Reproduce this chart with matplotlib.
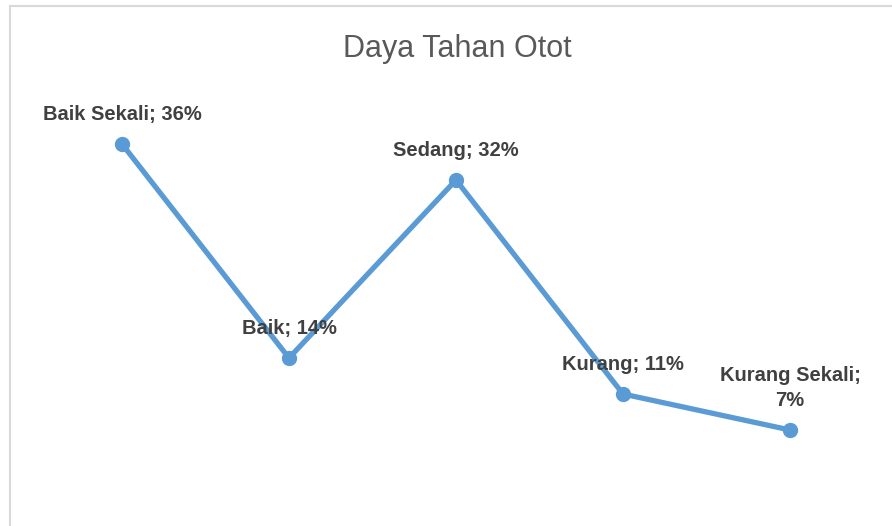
import matplotlib.pyplot as plt
from matplotlib.lines import Line2D

plt.rcParams['font.family'] = ['Liberation Sans', 'DejaVu Sans']

# data
kategori = ['Baik Sekali', 'Baik', 'Sedang', 'Kurang', 'Kurang Sekali']
persen = [35.7, 14.3, 32.1, 10.7, 7.1]
label = ['Baik Sekali; 36%', 'Baik; 14%', 'Sedang; 32%', 'Kurang; 11%', 'Kurang Sekali;\n7%']

fig = plt.figure(figsize=(8.92, 5.26), dpi=100)
ax = fig.add_axes([38.5 / 892, 25 / 526, 835 / 892, 400 / 526])

x = list(range(len(kategori)))
ax.plot(x, persen, color='#5B9BD5', linewidth=3.8, marker='o', markersize=10,
        solid_capstyle='round', solid_joinstyle='round')

for xi, yi, t in zip(x, persen, label):
    ax.annotate(t, (xi, yi), xytext=(0, 17), textcoords='offset points',
                ha='center', va='baseline', fontsize=14.5, fontweight='bold',
                color='#404040', linespacing=1.4, multialignment='center')

ax.set_xlim(-0.5, 4.5)
ax.set_ylim(0, 40)
ax.axis('off')

fig.text(457 / 892, 1 - 49 / 526, 'Daya Tahan Otot', ha='center', va='center',
         fontsize=22, color='#595959')

# chart border (cut off at right and bottom)
fig.add_artist(Line2D([9.5 / 892, 1], [1 - 6 / 526, 1 - 6 / 526], color='#d9d9d9', linewidth=1.5))
fig.add_artist(Line2D([9.5 / 892, 9.5 / 892], [0, 1 - 6 / 526], color='#d9d9d9', linewidth=1.5))

plt.savefig('out.png', dpi=100, facecolor='white')
